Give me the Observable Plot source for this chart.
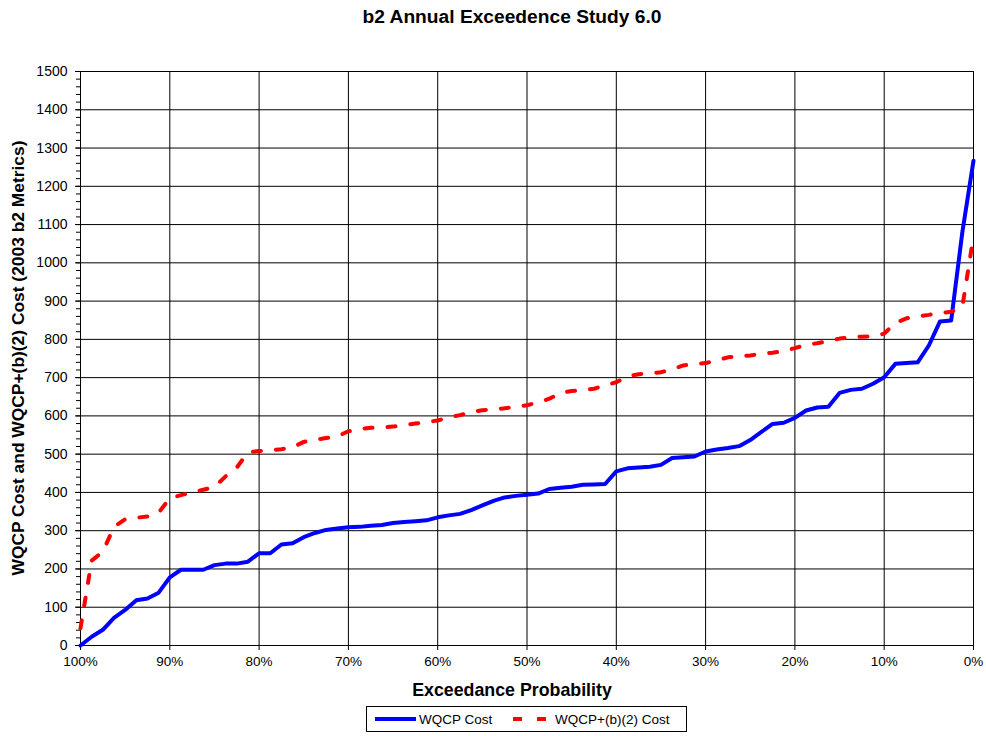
<!DOCTYPE html>
<html><head><meta charset="utf-8">
<script src="https://cdn.jsdelivr.net/npm/d3@7"></script>
<script src="https://cdn.jsdelivr.net/npm/@observablehq/plot@0.6"></script>
<style>
body{margin:0;background:#fff;font-family:Arial,"Liberation Sans",sans-serif;}
#wrap{position:relative;width:986px;height:736px;overflow:hidden;}
#wrap > svg{position:absolute;left:0;top:0;}
.t{position:absolute;white-space:nowrap;color:#000;}
</style></head><body>
<div id="wrap">
  <div class="t" style="left:0;width:1024px;text-align:center;top:6px;font-weight:bold;font-size:19.2px">b2 Annual Exceedence Study 6.0</div>
  <div class="t" style="left:18px;top:358px;transform:translate(-50%,-50%) rotate(-90deg);font-weight:bold;font-size:17.4px">WQCP Cost and WQCP+(b)(2) Cost (2003 b2 Metrics)</div>
  <div class="t" style="left:0;width:1024px;text-align:center;top:680px;font-weight:bold;font-size:17.8px">Exceedance Probability</div>
  <div class="t" id="legend" style="left:366px;top:706px;width:321px;height:26px;border:1px solid #000;box-sizing:border-box;background:#fff">
    <svg width="321" height="26" style="position:absolute;left:-1px;top:-1px;font-family:Arial,'Liberation Sans',sans-serif">
      <line x1="9" x2="50" y1="13" y2="13" stroke="#0000FF" stroke-width="4"/>
      <text x="53" y="18" font-size="13.5">WQCP Cost</text>
      <line x1="147" x2="180" y1="13" y2="13" stroke="#FF0000" stroke-width="4" stroke-dasharray="9,15"/>
      <text x="189" y="18" font-size="13.5">WQCP+(b)(2) Cost</text>
    </svg>
  </div>
</div>
<script>
const prob = [100,98.75,97.5,96.25,95,93.75,92.5,91.25,90,88.75,87.5,86.25,85,83.75,82.5,81.25,80,78.75,77.5,76.25,75,73.75,72.5,71.25,70,68.75,67.5,66.25,65,63.75,62.5,61.25,60,58.75,57.5,56.25,55,53.75,52.5,51.25,50,48.75,47.5,46.25,45,43.75,42.5,41.25,40,38.75,37.5,36.25,35,33.75,32.5,31.25,30,28.75,27.5,26.25,25,23.75,22.5,21.25,20,18.75,17.5,16.25,15,13.75,12.5,11.25,10,8.75,7.5,6.25,5,3.75,2.5,1.25,0];
const wqcpCost = [0,23,41,72,93,118,123,138,178,198,198,198,210,214,214,219,241,241,264,267,283,294,302,306,309,310,313,315,320,323,325,327,335,340,344,354,366,378,387,391,394,397,409,412,415,420,421,422,455,463,465,467,472,490,492,494,507,512,516,521,537,558,579,582,595,614,622,624,660,668,671,684,701,736,738,740,784,847,849,1080,1267];
const wqcpB2Cost = [45,222,245,310,330,334,337,347,385,393,400,407,414,442,465,505,508,510,513,518,532,538,542,546,560,566,569,570,572,576,580,584,588,596,602,610,615,617,620,624,628,635,645,660,665,667,671,680,688,703,709,711,714,722,732,735,738,745,753,756,758,762,765,770,777,786,790,796,802,805,807,808,815,843,855,860,864,869,872,885,1070];
const xTicks = [100,90,80,70,60,50,40,30,20,10,0];
const yTicks = [0,100,200,300,400,500,600,700,800,900,1000,1100,1200,1300,1400,1500];
const yMinor = d3.range(0, 1501, 20);

const rows = prob.map((p, i) => ({p, a: wqcpCost[i], b: wqcpB2Cost[i]}));

const chart = Plot.plot({
  width: 986, height: 736,
  marginLeft: 80, marginRight: 13, marginTop: 71, marginBottom: 91,
  style: {fontFamily: "Arial, 'Liberation Sans', sans-serif", fontSize: "13px", color: "#000", background: "transparent", overflow: "visible"},
  x: {domain: [100, 0]},
  y: {domain: [0, 1500]},
  marks: [
    Plot.gridY(yTicks, {stroke: "#000", strokeOpacity: 1, strokeWidth: 1}),
    Plot.gridX(xTicks, {stroke: "#000", strokeOpacity: 1, strokeWidth: 1}),
    Plot.frame({stroke: "#000"}),
    Plot.axisY(yMinor, {tickSize: 4, tickFormat: () => "", label: null}),
    Plot.axisY(yTicks, {tickSize: 5, tickPadding: 8, fontSize: 14, tickFormat: d => String(d), label: null}),
    Plot.axisX(xTicks, {tickSize: 5, tickPadding: 6, fontSize: 13.5, tickFormat: d => d + "%", label: null}),
    Plot.line(rows, {x: "p", y: "a", stroke: "#0000FF", strokeWidth: 4}),
    Plot.line(rows, {x: "p", y: "b", stroke: "#FF0000", strokeWidth: 4, strokeDasharray: "8,15"})
  ]
});
document.getElementById("wrap").prepend(chart);
</script>
</body></html>
